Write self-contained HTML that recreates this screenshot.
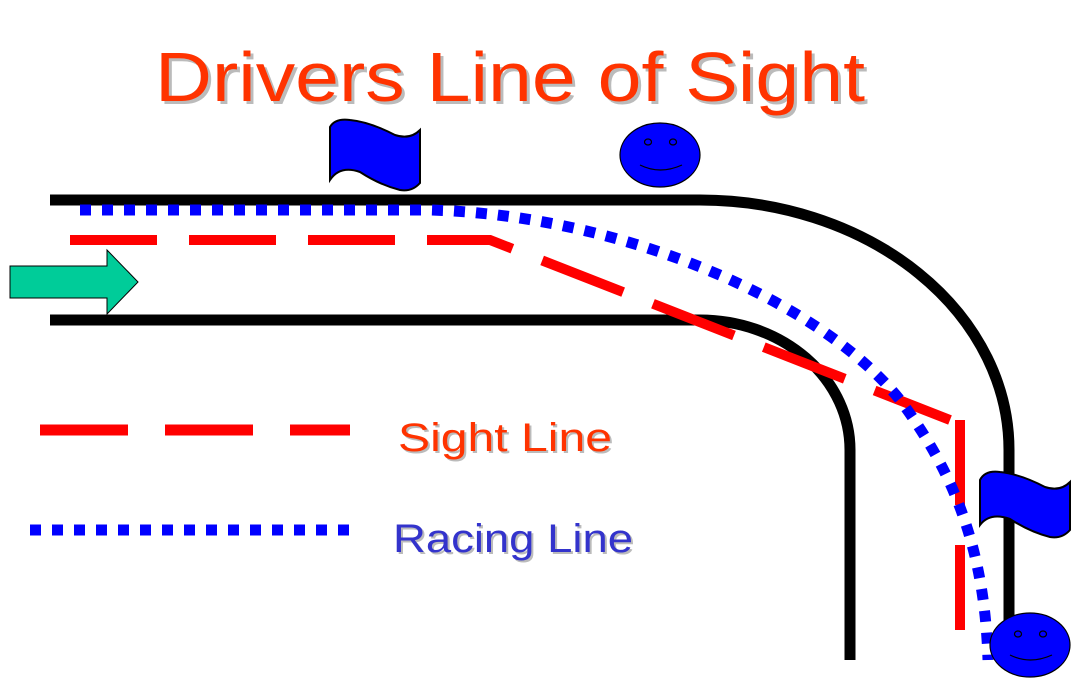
<!DOCTYPE html>
<html><head><style>body{margin:0;background:#fff}svg{display:block}</style></head><body>
<svg width="1073" height="688" viewBox="0 0 1073 688" xmlns="http://www.w3.org/2000/svg">
<g font-family="Liberation Sans, sans-serif">
<text x="158" y="104" font-size="70" fill="#bbb" textLength="710" lengthAdjust="spacingAndGlyphs">Drivers Line of Sight</text>
<text x="155" y="101" font-size="70" fill="#ff3300" textLength="710" lengthAdjust="spacingAndGlyphs">Drivers Line of Sight</text>
<text x="400" y="453" font-size="40" fill="#bbb" textLength="214" lengthAdjust="spacingAndGlyphs">Sight Line</text>
<text x="398" y="451" font-size="40" fill="#ff3300" textLength="214" lengthAdjust="spacingAndGlyphs">Sight Line</text>
<text x="395" y="554" font-size="40" fill="#bbb" textLength="240" lengthAdjust="spacingAndGlyphs">Racing Line</text>
<text x="393" y="552" font-size="40" fill="#3333cc" textLength="240" lengthAdjust="spacingAndGlyphs">Racing Line</text>
</g>
<!-- track -->
<path d="M50 200 H700 A309 250 0 0 1 1009 450 V640" fill="none" stroke="#000" stroke-width="11"/>
<path d="M50 320 H700 A150 130 0 0 1 850 450 V660" fill="none" stroke="#000" stroke-width="11"/>
<!-- sight line -->
<path d="M70 240 H490 L950 420" fill="none" stroke="#f00" stroke-width="10" stroke-dasharray="87 32"/>
<path d="M960 420 V668" fill="none" stroke="#f00" stroke-width="10" stroke-dasharray="85 40"/>
<!-- racing line -->
<path d="M80 210 H430 C620 215 820 300 900 400 C960 480 985 560 988 660" fill="none" stroke="#00f" stroke-width="11" stroke-dasharray="11 11"/>
<!-- legend -->
<path d="M40 430 H350" stroke="#f00" stroke-width="11" stroke-dasharray="88 37"/>
<path d="M30 530 H355" stroke="#00f" stroke-width="11" stroke-dasharray="11 11"/>
<!-- arrow -->
<path d="M10 266 H107 V250 L138 282 L107 314 V298 H10 Z" fill="#00cc99" stroke="#000" stroke-width="1"/>
<!-- flags -->
<path d="M330 127 Q335 118 350 120 Q370 122 395 135 Q410 140 420 130 V183 Q412 192 400 190 Q380 185 360 172 Q340 165 330 180 Z" fill="#00f" stroke="#000" stroke-width="2"/>
<path d="M980 480 Q985 470 1000 472 Q1020 474 1045 487 Q1060 492 1070 482 V530 Q1062 539 1050 537 Q1030 532 1010 519 Q990 512 980 525 Z" fill="#00f" stroke="#000" stroke-width="2"/>
<!-- faces -->
<g stroke="#000" stroke-width="1.2">
<ellipse cx="660" cy="155" rx="40" ry="32" fill="#00f"/>
<ellipse cx="648" cy="142" rx="3.5" ry="3" fill="none"/><ellipse cx="673" cy="142" rx="3.5" ry="3" fill="none"/>
<path d="M640 165 Q660 175 682 165" fill="none"/>
<ellipse cx="1030" cy="645" rx="40" ry="32" fill="#00f"/>
<ellipse cx="1018" cy="634" rx="3.5" ry="3" fill="none"/><ellipse cx="1043" cy="634" rx="3.5" ry="3" fill="none"/>
<path d="M1010 655 Q1030 665 1052 655" fill="none"/>
</g>
</svg>
</body></html>
